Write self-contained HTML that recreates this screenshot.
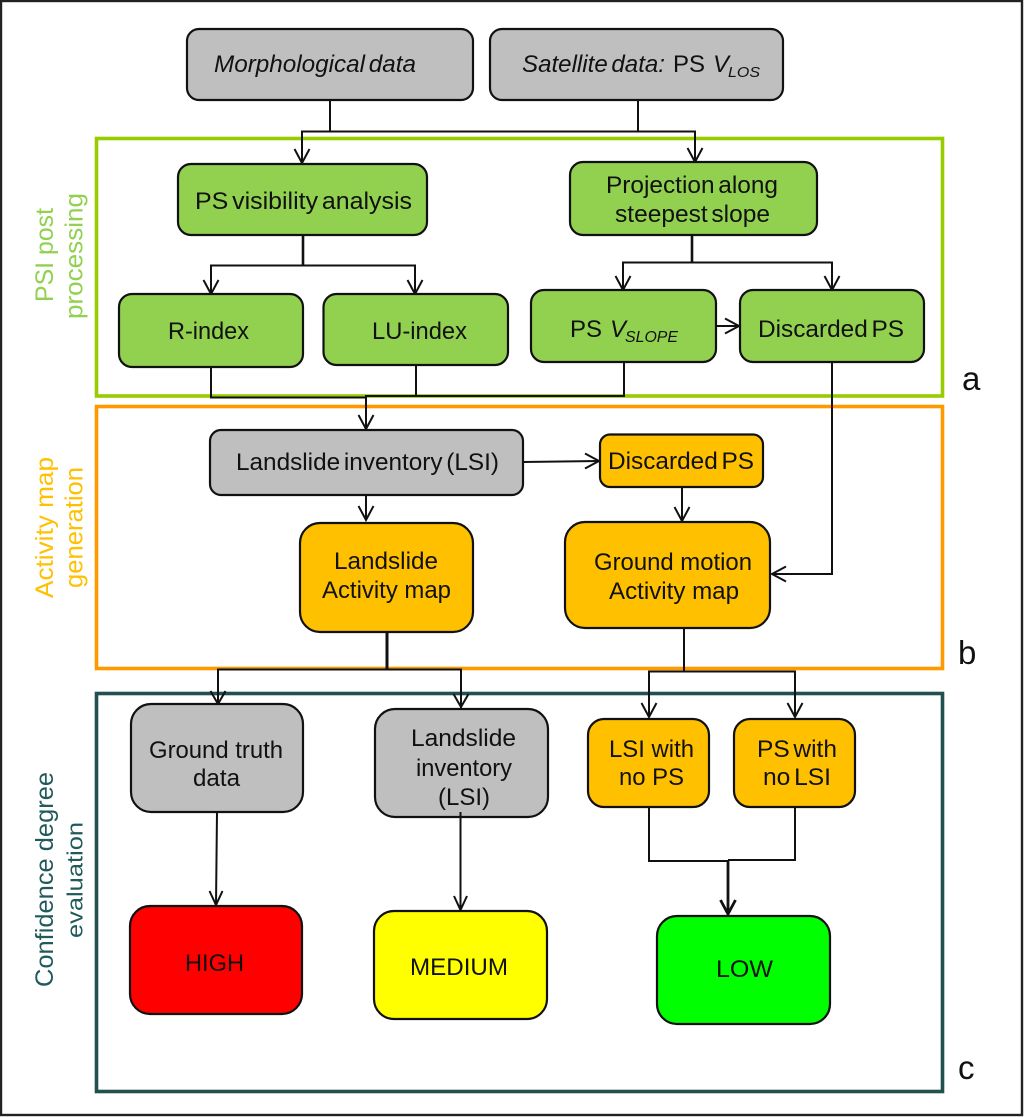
<!DOCTYPE html>
<html>
<head>
<meta charset="utf-8">
<style>
html,body{margin:0;padding:0;background:#fff;width:1024px;height:1117px;overflow:hidden}
svg{display:block}
text{font-family:"Liberation Sans",sans-serif;font-size:24px;fill:#111}
.ws{word-spacing:-3px}
.b{stroke:#111;stroke-width:2.2}
.g{fill:#bfbfbf}.n{fill:#92d050}.o{fill:#ffc000}
.l{fill:none;stroke:#111;stroke-width:2}
.t{fill:none;stroke:#111;stroke-width:2.6}
.h{fill:none;stroke:#111;stroke-width:2}
</style>
</head>
<body>
<svg width="1024" height="1117" viewBox="0 0 1024 1117" xmlns="http://www.w3.org/2000/svg">
<rect x="1" y="1" width="1021" height="1114" fill="#fff" stroke="#222" stroke-width="2.4"/>

<!-- frames -->
<rect x="96.5" y="138.5" width="846" height="257.500" fill="none" stroke="#99cc00" stroke-width="3.6"/>
<rect x="96.5" y="406.500" width="846" height="262" fill="none" stroke="#ff9900" stroke-width="3.6"/>
<rect x="96.5" y="693.500" width="846" height="398" fill="none" stroke="#215050" stroke-width="3.6"/>

<!-- connectors -->
<path class="l" d="M330 100V131.500H302V163M330 131.500H638M638 100V131.500H695V162"/>
<path class="t" d="M303 235V265.500"/>
<path class="l" d="M211 294V265.500H415V294"/>
<path class="t" d="M692 235V262.500"/>
<path class="l" d="M623 290V262.500H832V290"/>
<path class="l" d="M716 326H739"/>
<path class="l" d="M211 367V397.500H366M416 365V396M366 430V396H624V362"/>
<path class="l" d="M832 362V574H772"/>
<path class="l" d="M523 462L599 461"/>
<path class="l" d="M366 495V520"/>
<path class="l" d="M682 487V521"/>
<path class="l" d="M387 632V669" style="stroke-width:3"/>
<path class="l" d="M218 704V669.500H461V708"/>
<path class="l" d="M684 626V671.500M649 717V671.500H795V717"/>
<path class="l" d="M217 812L216 905"/>
<path class="l" d="M460.500 812V910"/>
<path class="l" d="M649 807V861H728M795 807V860H728"/>
<path class="l" d="M728 860V914" style="stroke-width:2.800"/>

<!-- arrowheads -->
<path class="h" d="M294.500 149L302 163L309.500 149"/>
<path class="h" d="M687.500 148L695 162L702.500 148"/>
<path class="h" d="M203.500 280L211 294L218.500 280"/>
<path class="h" d="M407.500 280L415 294L422.500 280"/>
<path class="h" d="M615.500 276L623 290L630.500 276"/>
<path class="h" d="M824.500 276L832 290L839.500 276"/>
<path class="h" d="M725 318.500L739 326L725 333.500"/>
<path class="h" d="M358.500 415L366 429L373.500 415"/>
<path class="h" d="M585 453.500L599 461L585 468.500"/>
<path class="h" d="M358.500 506L366 520L373.500 506"/>
<path class="h" d="M674.500 507L682 521L689.500 507"/>
<path class="h" d="M786 566.500L772 574L786 581.500"/>
<path class="h" d="M210.500 691L218 704L225.500 691"/>
<path class="h" d="M453.500 694L461 707L468.500 694"/>
<path class="h" d="M641.500 703L649 717L656.500 703"/>
<path class="h" d="M787.500 703L795 717L802.500 703"/>
<path class="h" d="M209.500 891L216 905L222.500 891"/>
<path class="h" d="M454 896L460.500 910L467 896"/>
<path class="h" d="M720.500 900L728 914L735.500 900" style="stroke-width:2.800"/>

<!-- boxes -->
<rect class="b g" x="187" y="29" width="286" height="71" rx="12"/>
<rect class="b g" x="490" y="29" width="293" height="71" rx="12"/>
<rect class="b n" x="178" y="164" width="249" height="71" rx="13"/>
<rect class="b n" x="570" y="162" width="247" height="73" rx="13"/>
<rect class="b n" x="119" y="294" width="184" height="73" rx="13"/>
<rect class="b n" x="323.500" y="294" width="184.500" height="71" rx="13"/>
<rect class="b n" x="531" y="290" width="185" height="72" rx="13"/>
<rect class="b n" x="740" y="290" width="184" height="72" rx="13"/>
<rect class="b g" x="210" y="430" width="313" height="65" rx="11"/>
<rect class="b o" x="600" y="434.500" width="163" height="52.500" rx="10"/>
<rect class="b o" x="300" y="523" width="173" height="109" rx="20"/>
<rect class="b o" x="565" y="522" width="205" height="106" rx="20"/>
<rect class="b g" x="131" y="704" width="172" height="108" rx="20"/>
<rect class="b g" x="375" y="709" width="173" height="108" rx="20"/>
<rect class="b o" x="588" y="719" width="121" height="88" rx="16"/>
<rect class="b o" x="734" y="719" width="121" height="88" rx="16"/>
<rect class="b" fill="#ff0000" x="130" y="906" width="172" height="108" rx="20"/>
<rect class="b" fill="#ffff00" x="374" y="911" width="173" height="108" rx="20"/>
<rect class="b" fill="#00ff00" x="657" y="916" width="173" height="108" rx="20"/>
<path class="l" d="M460.500 812V822"/>

<!-- box text -->
<text class="ws" x="214" y="72" font-style="italic" textLength="202" lengthAdjust="spacingAndGlyphs">Morphological data</text>
<text class="ws" x="522" y="72" font-style="italic" textLength="143" lengthAdjust="spacingAndGlyphs">Satellite data:</text>
<text x="673" y="72" textLength="32" lengthAdjust="spacingAndGlyphs">PS</text>
<text x="713" y="72" font-style="italic">V</text>
<text x="728" y="77" font-style="italic" style="font-size:15px" textLength="32" lengthAdjust="spacingAndGlyphs">LOS</text>
<text class="ws" x="195" y="209" textLength="217" lengthAdjust="spacingAndGlyphs">PS visibility analysis</text>
<text class="ws" x="606" y="193" textLength="172" lengthAdjust="spacingAndGlyphs">Projection along</text>
<text class="ws" x="615" y="222" textLength="155" lengthAdjust="spacingAndGlyphs">steepest slope</text>
<text x="168" y="339" textLength="81" lengthAdjust="spacingAndGlyphs">R-index</text>
<text x="372" y="339" textLength="95" lengthAdjust="spacingAndGlyphs">LU-index</text>
<text x="570" y="337" textLength="32" lengthAdjust="spacingAndGlyphs">PS</text>
<text x="610" y="337" font-style="italic">V</text>
<text x="625" y="342" font-style="italic" style="font-size:16px" textLength="53" lengthAdjust="spacingAndGlyphs">SLOPE</text>
<text class="ws" x="758" y="337" textLength="146" lengthAdjust="spacingAndGlyphs">Discarded PS</text>
<text class="ws" x="236" y="470" textLength="263" lengthAdjust="spacingAndGlyphs">Landslide inventory (LSI)</text>
<text class="ws" x="608" y="469" textLength="146" lengthAdjust="spacingAndGlyphs">Discarded PS</text>
<text x="334" y="569" textLength="104" lengthAdjust="spacingAndGlyphs">Landslide</text>
<text x="322" y="598" textLength="129" lengthAdjust="spacingAndGlyphs">Activity map</text>
<text x="594" y="570" textLength="158" lengthAdjust="spacingAndGlyphs">Ground motion</text>
<text x="609" y="599" textLength="130" lengthAdjust="spacingAndGlyphs">Activity map</text>
<text x="149" y="758" textLength="134" lengthAdjust="spacingAndGlyphs">Ground truth</text>
<text x="193" y="786" textLength="47" lengthAdjust="spacingAndGlyphs">data</text>
<text x="411" y="746" textLength="105" lengthAdjust="spacingAndGlyphs">Landslide</text>
<text x="416" y="776" textLength="96" lengthAdjust="spacingAndGlyphs">inventory</text>
<text x="438" y="805" textLength="52" lengthAdjust="spacingAndGlyphs">(LSI)</text>
<text x="609" y="757" textLength="85" lengthAdjust="spacingAndGlyphs">LSI with</text>
<text x="619" y="785" textLength="65" lengthAdjust="spacingAndGlyphs">no PS</text>
<text class="ws" x="757" y="757" textLength="80" lengthAdjust="spacingAndGlyphs">PS with</text>
<text class="ws" x="763" y="785" textLength="68" lengthAdjust="spacingAndGlyphs">no LSI</text>
<text x="185" y="971" textLength="59" lengthAdjust="spacingAndGlyphs">HIGH</text>
<text x="410" y="975" textLength="98" lengthAdjust="spacingAndGlyphs">MEDIUM</text>
<text x="716" y="977" textLength="57" lengthAdjust="spacingAndGlyphs">LOW</text>

<!-- side labels -->
<text transform="translate(53 302) rotate(-90)" style="fill:#92d050;font-size:25px" textLength="94" lengthAdjust="spacingAndGlyphs">PSI post</text>
<text transform="translate(82.500 319) rotate(-90)" style="fill:#92d050;font-size:25px" textLength="126" lengthAdjust="spacingAndGlyphs">processing</text>
<text transform="translate(53 598) rotate(-90)" style="fill:#ffc000;font-size:25px" textLength="141" lengthAdjust="spacingAndGlyphs">Activity map</text>
<text transform="translate(82.500 588) rotate(-90)" style="fill:#ffc000;font-size:25px" textLength="121" lengthAdjust="spacingAndGlyphs">generation</text>
<text transform="translate(53 987) rotate(-90)" style="fill:#215a5a;font-size:25px" textLength="215" lengthAdjust="spacingAndGlyphs">Confidence degree</text>
<text transform="translate(82.500 938) rotate(-90)" style="fill:#215a5a;font-size:22px" textLength="116" lengthAdjust="spacingAndGlyphs">evaluation</text>

<!-- panel letters -->
<text x="962" y="390" style="font-size:33px">a</text>
<text x="958" y="664" style="font-size:33px">b</text>
<text x="958" y="1079" style="font-size:33px">c</text>
</svg>
</body>
</html>
